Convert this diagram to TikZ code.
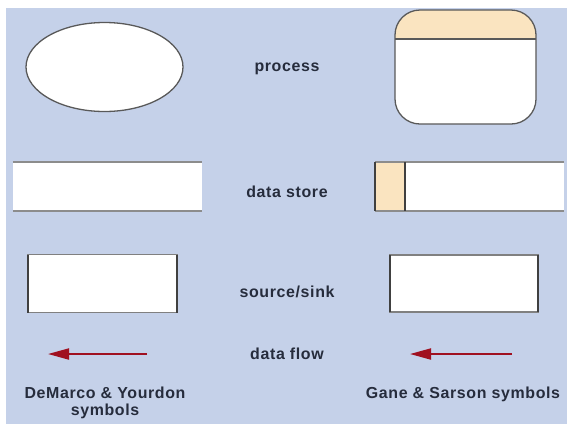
\documentclass[tikz,border=0pt]{standalone}
\usepackage{fontspec}
\setmainfont{Liberation Sans}[LetterSpace=4]
\usepackage{xcolor}
\definecolor{Back}{RGB}{197,209,233}
\definecolor{Tan}{RGB}{250,228,192}
\definecolor{Ink}{RGB}{38,44,60}
\definecolor{FlowCol}{RGB}{160,16,32}
\usepackage{tikz}
\usetikzlibrary{shapes.geometric}
\usetikzlibrary{arrows.meta}
\tikzstyle{Label}=[font=\bfseries\fontsize{16}{17}\selectfont,text=Ink,align=center]
\tikzstyle{Symbol}=[fill=white,inner sep=0pt,outer sep=0pt]
\tikzstyle{Outline}=[draw=black!65,line width=1.3pt]
\tikzstyle{Rim}=[draw=black!45,line width=2pt]
\tikzstyle{Side}=[draw=black!75,line width=1.6pt]
\tikzstyle{DataFlow}=[draw=FlowCol,line width=2pt,-{Triangle[length=21bp,width=11bp]}]

\begin{document}
\begin{tikzpicture}[x=1bp,y=-1bp]
        \fill[white](0,0)rectangle(567,424);
        \fill[Back](6,8)rectangle(567,424);
        \useasboundingbox(0,0)rectangle(567,424);
        % process
        \node[Symbol,Outline,ellipse,minimum width=157bp,minimum height=89bp](dmp)at(104.5,67){};
        \node[Symbol,Outline,rounded corners=25bp,minimum width=141bp,minimum height=114bp,
            path picture={\fill[Tan,sharp corners](path picture bounding box.north west)rectangle([yshift=-29bp]path picture bounding box.north east);
            \draw[Outline,sharp corners]([yshift=-29bp]path picture bounding box.north west)--([yshift=-29bp]path picture bounding box.north east);}](gsp)at(465.5,67){};
        \node[Label](proc)at(287,69){process};
        % data store
        \node[Symbol,minimum width=189bp,minimum height=49bp](dmd)at(107.5,186.5){};
        \draw[Rim](dmd.north west)--(dmd.north east);
        \draw[Rim](dmd.south west)--(dmd.south east);
        \node[Symbol,minimum width=189bp,minimum height=49bp,
            path picture={\fill[Tan](path picture bounding box.north west)rectangle([xshift=30bp]path picture bounding box.south west);}](gsd)at(469.5,186.5){};
        \draw[Rim](gsd.north west)--(gsd.north east);
        \draw[Rim](gsd.south west)--(gsd.south east);
        \draw[Side](gsd.north west)--(gsd.south west);
        \draw[Side]([xshift=30bp]gsd.north west)--([xshift=30bp]gsd.south west);
        \node[Label](store)at(287,191.5){data store};
        % source/sink
        \node[Symbol,draw=black!50,line width=1.3pt,minimum width=149bp,minimum height=58bp](dms)at(102.5,283.5){};
        \draw[Side](dms.north west)--(dms.south west);
        \draw[Side](dms.north east)--(dms.south east);
        \node[Symbol,draw=black!50,line width=1.3pt,minimum width=148bp,minimum height=57bp](gss)at(464,283.5){};
        \draw[Side](gss.north west)--(gss.south west);
        \draw[Side](gss.north east)--(gss.south east);
        \node[Label](sink)at(287,291.5){source/sink};
        % data flow
        \coordinate(dmf0)at(147,354);
        \coordinate(dmf1)at(48,354);
        \draw[DataFlow](dmf0)--(dmf1);
        \coordinate(gsf0)at(512,354);
        \coordinate(gsf1)at(410,354);
        \draw[DataFlow](gsf0)--(gsf1);
        \node[Label](flow)at(287,353.5){data flow};
        % notations
        \node[Label](dm)at(105,403){DeMarco \& Yourdon\\symbols};
        \node[Label](gs)at(463,394.5){Gane \& Sarson symbols};
    \end{tikzpicture}
\end{document}
